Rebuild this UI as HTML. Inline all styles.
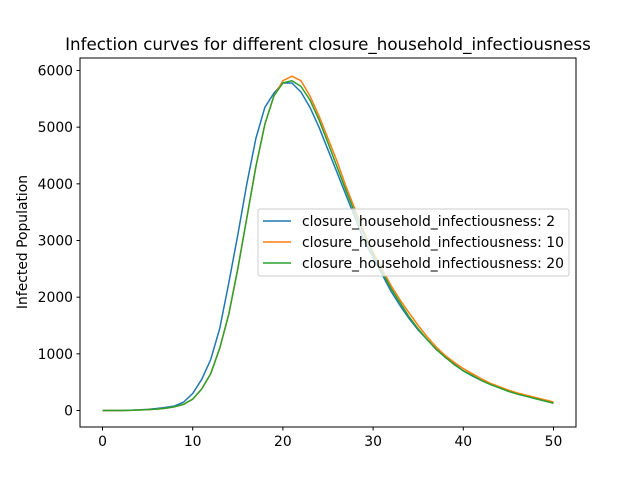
<!DOCTYPE html>
<html><head><meta charset="utf-8"><style>
body{margin:0;background:#fff}
svg{font-family:"DejaVu Sans","Liberation Sans",sans-serif}
</style></head><body>
<svg id="chart" width="640" height="480" xmlns="http://www.w3.org/2000/svg">
<rect width="640" height="480" fill="#fff"/>
<text x="328" y="50" text-anchor="middle" font-size="16.7">Infection curves for different closure_household_infectiousness</text>
<g id="plot"></g>
<rect x="80" y="58" width="496" height="369" fill="none" stroke="#000" stroke-width="1"/>
<text transform="translate(27,242) rotate(-90)" text-anchor="middle" font-size="13.9">Infected Population</text>
</svg>
<script>
const days=[];for(let i=0;i<=50;i++)days.push(i);
const s2=[0,0,0,5,10,20,35,55,80,150,300,550,900,1450,2250,3100,4000,4800,5350,5600,5780,5780,5620,5350,5000,4600,4200,3800,3400,3000,2700,2400,2100,1850,1620,1420,1250,1080,940,820,700,610,530,460,400,340,290,250,210,170,130];
const s10=[0,0,0,3,8,15,25,40,65,110,200,380,650,1100,1700,2500,3400,4300,5050,5550,5820,5900,5820,5550,5200,4800,4400,3950,3550,3150,2800,2500,2200,1950,1720,1500,1300,1120,970,850,740,650,560,480,420,360,310,270,230,190,150];
const s20=[0,0,0,3,8,15,25,40,65,110,200,380,650,1100,1700,2500,3400,4300,5050,5550,5780,5820,5720,5480,5130,4720,4300,3880,3480,3100,2760,2450,2150,1900,1650,1440,1250,1080,940,810,700,620,530,460,400,340,290,250,210,170,130];
const series=[["closure_household_infectiousness: 2",s2,"#1f77b4"],["closure_household_infectiousness: 10",s10,"#ff7f0e"],["closure_household_infectiousness: 20",s20,"#2ca02c"]];
const xTicks=[0,10,20,30,40,50];
const yTicks=[0,1000,2000,3000,4000,5000,6000];
const X=v=>102.5+v*9.02;
const Y=v=>410.5-v*(340/6000);
const NS="http://www.w3.org/2000/svg";
const g=document.getElementById('plot');
function mk(t,a){const e=document.createElementNS(NS,t);for(const k in a)e.setAttribute(k,a[k]);g.appendChild(e);return e;}
xTicks.forEach(t=>{
 const l=mk('line',{x1:X(t),x2:X(t),y1:427,y2:430.5,stroke:'#000'});
 
 
 const tx=mk('text',{x:X(t),y:446,'text-anchor':'middle','font-size':13.9});tx.textContent=t;
 
 
});
yTicks.forEach(t=>{
 const l=mk('line',{x1:76.5,x2:80,y1:Y(t),y2:Y(t),stroke:'#000'});
 
 
 const tx=mk('text',{x:73,y:Y(t)+5,'text-anchor':'end','font-size':13.9});tx.textContent=t;
 
 
});
series.forEach((s,i)=>{
 const p=mk('polyline',{points:s[1].map((v,j)=>X(days[j])+','+Y(v)).join(' '),fill:'none',stroke:s[2],'stroke-width':1.5});
 
 
});
const lg=mk('rect',{x:258,y:209,width:311,height:67,fill:'#fff','fill-opacity':0.8,stroke:'#ccc',rx:2});


series.forEach((s,i)=>{
 const y=221+i*21;
 const l=mk('line',{x1:263,x2:291,y1:y,y2:y,stroke:s[2],'stroke-width':1.5});
 
 
 const t=mk('text',{x:302,y:y+5,'font-size':13.9});t.textContent=s[0];
 
 
});
</script>
</body></html>
